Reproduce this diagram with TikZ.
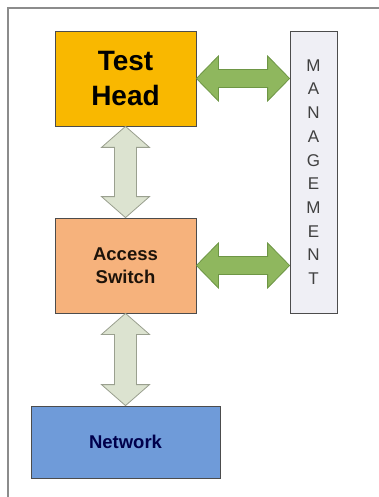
\documentclass[tikz,border=0pt]{standalone}
\usepackage{fontspec}
\setmainfont{Liberation Sans}
\usepackage{tikz}
\usetikzlibrary{calc}
\usepackage{xcolor}

\definecolor{headfill}{HTML}{F9B800}
\definecolor{switchfill}{HTML}{F6B27C}
\definecolor{netfill}{HTML}{6F9BD9}
\definecolor{mgmtfill}{HTML}{EFEFF5}
\definecolor{greenfill}{HTML}{8FB75E}
\definecolor{greenline}{HTML}{6E9645}
\definecolor{palefill}{HTML}{DCE3D0}
\definecolor{paleline}{HTML}{9AA08F}

% double arrows drawn between two points (head length 22, head half 22.5, shaft half 9/11)
\newcommand{\dblarrowh}[3]{\draw[#1] let \p1=(#2), \p2=(#3) in
 (\x1,\y1) -- (\x1+22pt,\y1+22.5pt) -- (\x1+22pt,\y1+9pt) -- (\x2-22pt,\y1+9pt) -- (\x2-22pt,\y1+22.5pt)
 -- (\x2,\y1) -- (\x2-22pt,\y1-22.5pt) -- (\x2-22pt,\y1-9pt) -- (\x1+22pt,\y1-9pt) -- (\x1+22pt,\y1-22.5pt) -- cycle;}
\newcommand{\dblarrowv}[3]{\draw[#1] let \p1=(#2), \p2=(#3) in
 (\x1,\y1) -- (\x1+24pt,\y1-21pt) -- (\x1+11pt,\y1-21pt) -- (\x1+11pt,\y2+21pt) -- (\x1+24pt,\y2+21pt)
 -- (\x1,\y2) -- (\x1-24pt,\y2+21pt) -- (\x1-11pt,\y2+21pt) -- (\x1-11pt,\y1-21pt) -- (\x1-24pt,\y1-21pt) -- cycle;}

\tikzset{
 block/.style={draw=black!70, line width=0.8pt, inner sep=0pt, align=center, font=\bfseries},
 mgmtletters/.style={font=\fontsize{17}{23.7}\selectfont, text=black!75, align=center},
 green arrow/.style={fill=greenfill, draw=greenline, line width=0.8pt, line join=miter},
 pale arrow/.style={fill=palefill, draw=paleline, line width=0.8pt, line join=miter},
}

\begin{document}
\begin{tikzpicture}[x=1pt,y=-1pt]
 \useasboundingbox (0,0) rectangle (379,497);
 \draw[black!45, line width=1.6pt] (8,497) -- (8,8) -- (379,8);

 \node[block, fill=headfill, minimum width=141pt, minimum height=95pt,
   font=\bfseries\fontsize{28}{35}\selectfont] (th) at (125.5,78.5) {Test\\Head};
 \node[block, fill=switchfill, minimum width=141pt, minimum height=95pt,
   font=\bfseries\fontsize{18.5}{23}\selectfont, text=black!85!brown] (sw) at (125.5,265.5) {Access\\Switch};
 \node[block, fill=netfill, minimum width=189pt, minimum height=72pt,
   font=\bfseries\fontsize{18.5}{23}\selectfont, text=blue!30!black] (net) at (125.5,442) {Network};
 \node[block, fill=mgmtfill, minimum width=47pt, minimum height=282pt] (mg) at (313.5,172) {};
 \node[mgmtletters] (mgtext) at (mg.center) {M\\A\\N\\A\\G\\E\\M\\E\\N\\T};

 \dblarrowh{green arrow}{th.east}{mg.west |- th.east}
 \dblarrowh{green arrow}{sw.east}{mg.west |- sw.east}
 \dblarrowv{pale arrow}{th.south}{sw.north}
 \dblarrowv{pale arrow}{sw.south}{net.north}
\end{tikzpicture}
\end{document}
